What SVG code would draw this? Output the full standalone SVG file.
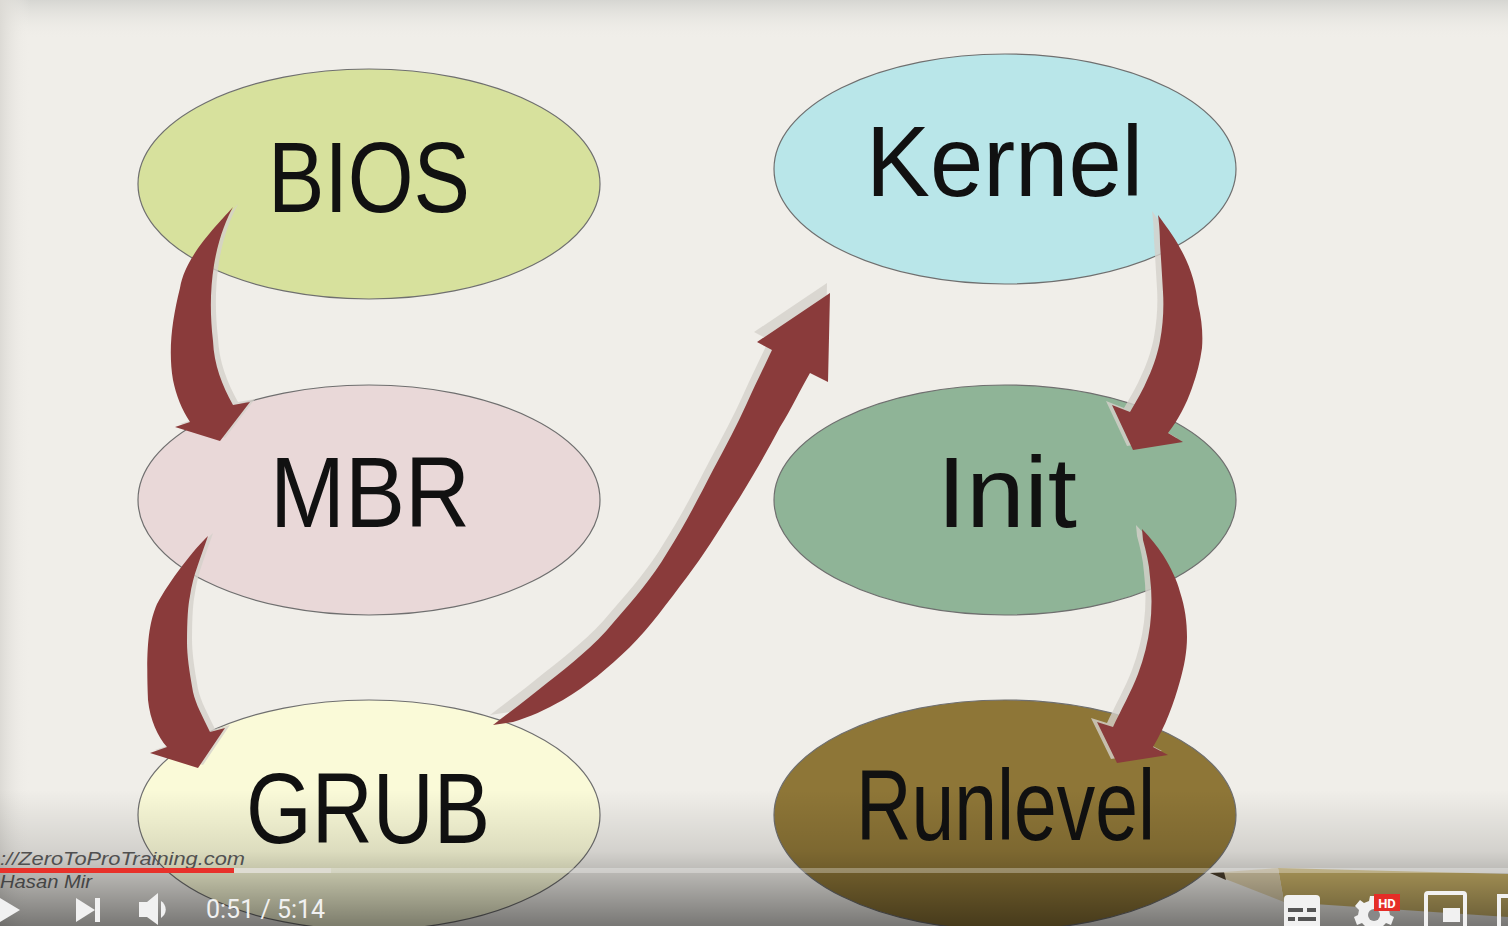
<svg xmlns="http://www.w3.org/2000/svg" width="1508" height="926" viewBox="0 0 1508 926">
<defs>
<linearGradient id="topfade" x1="0" y1="0" x2="0" y2="1">
<stop offset="0" stop-color="#d6d6d2"/>
<stop offset="1" stop-color="#f0eee9" stop-opacity="0"/>
</linearGradient>
<linearGradient id="leftfade" x1="0" y1="0" x2="1" y2="0">
<stop offset="0" stop-color="#dcdad5"/>
<stop offset="1" stop-color="#f0eee9" stop-opacity="0"/>
</linearGradient>
<linearGradient id="ytfade" x1="0" y1="0" x2="0" y2="1">
<stop offset="0" stop-color="#000" stop-opacity="0"/>
<stop offset="0.45" stop-color="#000" stop-opacity="0.12"/>
<stop offset="1" stop-color="#000" stop-opacity="0.5"/>
</linearGradient>
<style>
.node{stroke:#6f6f6f;stroke-width:1.2}
.lbl{font-family:"Liberation Sans","DejaVu Sans",sans-serif;font-size:100px;fill:#111;text-anchor:start}
.arrow{fill:#8a3b3b}
.shadow{fill:#d4d1cb;opacity:0.8}
.ui{fill:#f1f1f1}
</style>
</defs>
<rect width="1508" height="926" fill="#f0eee9"/>
<rect width="1508" height="40" fill="url(#topfade)"/>
<rect width="30" height="926" fill="url(#leftfade)"/>

<g id="bios">
<ellipse class="node" cx="369" cy="184" rx="231" ry="115" fill="#d7e19d"/>
<text class="lbl" x="268" y="212" textLength="202" lengthAdjust="spacingAndGlyphs">BIOS</text>
</g>
<g id="mbr">
<ellipse class="node" cx="369" cy="500" rx="231" ry="115" fill="#e9d8d8"/>
<text class="lbl" x="270" y="527" textLength="200" lengthAdjust="spacingAndGlyphs">MBR</text>
</g>
<g id="grub">
<ellipse class="node" cx="369" cy="815" rx="231" ry="115" fill="#fafad8"/>
<text class="lbl" x="246" y="843" textLength="244" lengthAdjust="spacingAndGlyphs">GRUB</text>
</g>
<g id="kernel">
<ellipse class="node" cx="1005" cy="169" rx="231" ry="115" fill="#b9e6e9"/>
<text class="lbl" x="866" y="196" textLength="277" lengthAdjust="spacingAndGlyphs">Kernel</text>
</g>
<g id="init">
<ellipse class="node" cx="1005" cy="500" rx="231" ry="115" fill="#8fb497"/>
<text class="lbl" x="937" y="527" textLength="140" lengthAdjust="spacingAndGlyphs">Init</text>
</g>
<g id="runlevel">
<ellipse class="node" cx="1005" cy="815" rx="231" ry="115" fill="#8e7637"/>
<text class="lbl" x="856" y="840" font-size="92" textLength="299" lengthAdjust="spacingAndGlyphs">Runlevel</text>
</g>

<g id="connectors">
<defs>
<path id="a1" d="M233,207 C222,220 185,255 180,288 C172,320 168,350 173,380 C176,395 182,410 190,422 L175,427 L220,441 L250,402 L233,405 C222,385 214,365 213,341 C210,315 210,290 214,265 C218,240 226,220 233,207 Z"/>
<path id="a2" d="M208,536 C195,548 170,580 157,604 C148,625 146,650 148,700 C150,720 158,737 167,747 L150,753 L198,768 L225,728 L210,732 C202,715 196,705 193,692 C189,670 187,655 187,642 C187,620 188,605 190,596 C193,575 200,560 208,536 Z"/>
<path id="a3" d="M493,725 C510,712 530,697 547,683 C570,665 595,645 613,623 C635,598 652,578 667,553 C685,525 700,495 713,470 C725,448 737,425 747,403 C755,385 765,365 772,350 L757,342 L830,293 L828,382 L810,373 C800,390 792,408 780,427 C768,450 755,472 740,497 C722,525 706,552 687,577 C668,602 650,627 630,647 C608,668 587,686 563,700 C545,710 530,717 513,722 Z"/>
<path id="a4" d="M1158,215 C1165,225 1174,236 1180,248 C1190,265 1196,285 1198,304 C1202,320 1203,335 1202,348 C1200,362 1197,374 1192,388 C1186,405 1178,420 1168,433 L1183,442 L1133,450 L1112,405 L1130,412 C1137,400 1143,390 1148,378 C1154,365 1158,352 1160,341 C1163,325 1164,308 1163,292 C1162,275 1161,258 1160,244 C1160,232 1159,222 1158,215 Z"/>
<path id="a5" d="M1142,529 C1150,537 1157,546 1163,555 C1171,568 1177,580 1180,592 C1185,607 1187,622 1187,637 C1187,652 1184,667 1180,681 C1174,703 1165,727 1153,747 L1168,755 L1117,763 L1097,722 L1113,727 C1120,712 1132,690 1138,674 C1144,658 1148,642 1150,626 C1152,610 1152,593 1150,577 C1149,563 1146,551 1143,540 Z"/>
</defs>
<use href="#a1" class="shadow" transform="translate(5,-3)"/>
<use href="#a2" class="shadow" transform="translate(5,-3)"/>
<use href="#a3" class="shadow" transform="translate(-3,-10)"/>
<use href="#a4" class="shadow" transform="translate(-6,-4)"/>
<use href="#a5" class="shadow" transform="translate(-6,-4)"/>
<use href="#a1" class="arrow"/>
<use href="#a2" class="arrow"/>
<use href="#a3" class="arrow"/>
<use href="#a4" class="arrow"/>
<use href="#a5" class="arrow"/>
</g>

<g id="pencil">
<polygon points="1278,868 1508,874 1508,917 1284,902" fill="#cdb56a"/>
<polygon points="1210,873 1278,868 1284,902" fill="#e0d2ae"/>
<polygon points="1210,873 1224,872 1226,880" fill="#4a3e2c"/>
</g>

<rect x="0" y="790" width="1508" height="136" fill="url(#ytfade)"/>

<g id="player">
<text x="0" y="865" font-family="Liberation Sans, DejaVu Sans, sans-serif" font-size="19" font-style="italic" fill="#505050" textLength="245" lengthAdjust="spacingAndGlyphs">://ZeroToProTraining.com</text>
<text x="0" y="888" font-family="Liberation Sans, DejaVu Sans, sans-serif" font-size="19" font-style="italic" fill="#454545" textLength="92" lengthAdjust="spacingAndGlyphs">Hasan Mir</text>
<rect x="0" y="868" width="1508" height="5" fill="#ffffff" opacity="0.3"/>
<rect x="234" y="868" width="97" height="5" fill="#dedcd2"/>
<rect x="0" y="868" width="234" height="5" fill="#e8312a"/>
<polygon class="ui" points="0,898 20,910 0,922"/>
<polygon class="ui" points="76,898 95,910 76,922"/>
<rect class="ui" x="95" y="898" width="5" height="24"/>
<polygon class="ui" points="139,902 147,902 158,893 158,925 147,917 139,917"/>
<path d="M161,901 A10,10 0 0 1 161,918 Z" class="ui"/>
<text x="206" y="918" font-family="Roboto, Liberation Sans, sans-serif" font-size="25" fill="#f1f1f1">0:51 / 5:14</text>
<rect class="ui" x="1284" y="895" width="36" height="36" rx="4"/>
<rect x="1288" y="908" width="15" height="4" fill="#555"/>
<rect x="1307" y="908" width="9" height="4" fill="#555"/>
<rect x="1288" y="917" width="7" height="4" fill="#555"/>
<rect x="1298" y="917" width="18" height="4" fill="#555"/>
<g transform="translate(1374,912)">
<path class="ui" d="M-4,-16 L4,-16 L5,-11 L10,-9 L14,-12 L19,-6 L15,-2 L16,3 L20,5 L17,13 L12,11 L8,15 L9,20 L-9,20 L-8,15 L-12,11 L-17,13 L-20,5 L-16,3 L-15,-2 L-19,-6 L-14,-12 L-10,-9 L-5,-11 Z"/>
<circle cx="0" cy="3" r="6" fill="#888"/>
</g>
<rect x="1374" y="894" width="26" height="17" fill="#e52d27"/>
<text x="1387" y="908" font-family="Roboto, Liberation Sans, sans-serif" font-size="13" font-weight="bold" fill="#fff" text-anchor="middle">HD</text>
<rect x="1426" y="893" width="39" height="40" fill="none" stroke="#f1f1f1" stroke-width="4" rx="2"/>
<rect class="ui" x="1443" y="908" width="17" height="14"/>
<rect x="1499" y="896" width="14" height="36" fill="none" stroke="#f1f1f1" stroke-width="4"/>
</g>
</svg>
